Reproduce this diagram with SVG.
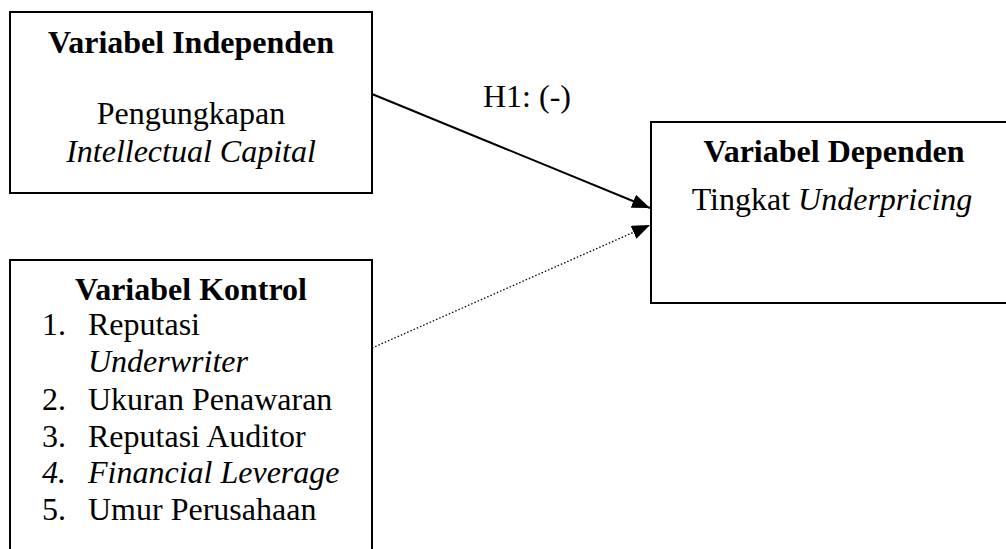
<svg xmlns="http://www.w3.org/2000/svg" width="1006" height="549" viewBox="0 0 1006 549">
<defs>
<style>
.box{fill:#fff;stroke:#000;stroke-width:2}
.t{font-family:"Liberation Serif","Times New Roman",serif;font-size:32px;fill:#000}
.b{font-weight:bold}
.i{font-style:italic}
.c{text-anchor:middle}
</style>
<marker id="ah" markerUnits="userSpaceOnUse" markerWidth="18" markerHeight="14" refX="18" refY="7" orient="auto" viewBox="0 0 18 14">
<path d="M0,0 L18,7 L0,14 z" fill="#000"/>
</marker>
</defs>
<rect width="1006" height="549" fill="#fff"/>
<g id="connectors">
<line x1="372" y1="94" x2="650" y2="208" stroke="#000" stroke-width="2" marker-end="url(#ah)"/>
<line x1="372" y1="348" x2="650" y2="225" stroke="#000" stroke-width="1.3" stroke-dasharray="1.5,2" marker-end="url(#ah)"/>
<text class="t" x="483" y="107">H1: (-)</text>
</g>
<g id="independen">
<rect class="box" x="10" y="12" width="362" height="181"/>
<text class="t b c" x="191" y="53">Variabel Independen</text>
<text class="t c" x="191" y="124">Pengungkapan</text>
<text class="t i c" x="191" y="162">Intellectual Capital</text>
</g>
<g id="kontrol">
<rect class="box" x="10" y="260" width="362" height="320"/>
<text class="t b c" x="191" y="300">Variabel Kontrol</text>
<text class="t" x="42" y="335">1.</text><text class="t" x="88" y="335">Reputasi</text>
<text class="t i" x="88" y="372">Underwriter</text>
<text class="t" x="42" y="410">2.</text><text class="t" x="88" y="410">Ukuran Penawaran</text>
<text class="t" x="42" y="447">3.</text><text class="t" x="88" y="447">Reputasi Auditor</text>
<text class="t i" x="42" y="483">4.</text><text class="t i" x="88" y="483">Financial Leverage</text>
<text class="t" x="42" y="520">5.</text><text class="t" x="88" y="520">Umur Perusahaan</text>
</g>
<g id="dependen">
<rect class="box" x="651" y="122" width="370" height="181"/>
<text class="t b c" x="834" y="162">Variabel Dependen</text>
<text class="t c" x="832" y="210">Tingkat <tspan class="i">Underpricing</tspan></text>
</g>
</svg>
